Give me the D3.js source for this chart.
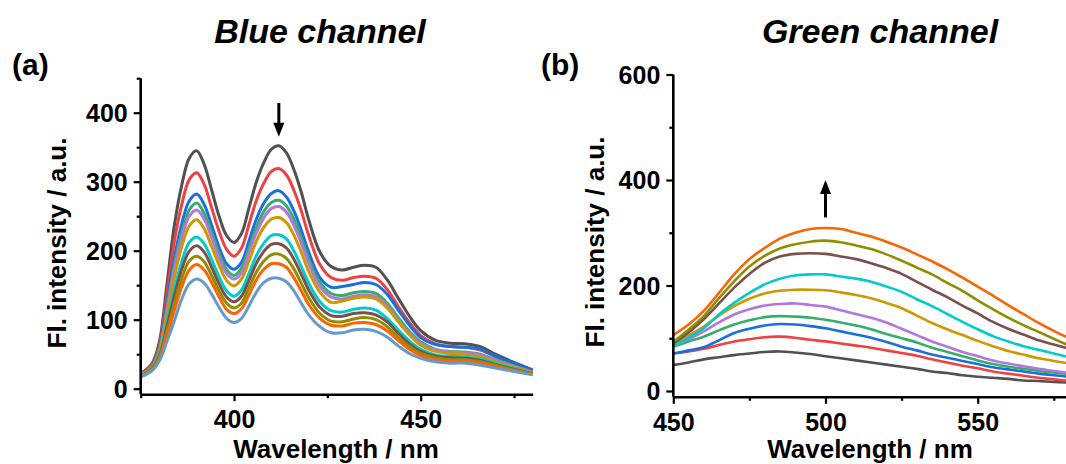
<!DOCTYPE html>
<html><head><meta charset="utf-8">
<script src="https://cdn.jsdelivr.net/npm/d3@7"></script>
<style>
body{margin:0;background:#fff;}
svg{display:block;}
text{font-family:'Liberation Sans',Arial,sans-serif;font-weight:bold;fill:#000;}
</style>
</head><body><svg id="c" width="1066" height="464"></svg>
<script>
// Origin "Bright" palette order
const palette = ["#515151","#F14040","#1A6FDF","#37AD6B","#B177DE","#CC9900","#00CBCC","#7D4E4E","#8E8E00","#FB6501","#6699CC"];

// ---------- Panel (a): Blue channel ----------
const wlA = [375,378,380,382,384,386,388,390,392,394,396,398,400,402,404,406,408,410,412,414,416,418,420,423,426,429,432,435,438,441,444,447,450,454,458,462,466,470,475,480];
const blueGray   = [22,36,68,150,236,295,334,345,325,288,250,222,212,225,262,300,328,347,352,342,318,285,245,198,177,172,176,179,176,158,131,105,84,70,66,65,61,50,38,27];
const blueRed    = [21,34,63,136,213,267,303,313,296,262,228,202,192,204,238,273,298,315,319,310,288,258,222,180,161,157,161,163,160,144,119,96,77,65,61,60,56,47,36,26];
const blueBlue   = [20,33,59,122,189,239,272,282,267,237,205,181,173,183,214,246,269,283,287,278,258,230,198,161,147,148,151,154,151,137,114,92,74,64,61,60,57,47,37,27];
const blueGreen  = [20,32,57,116,179,227,259,269,254,226,196,173,164,175,204,234,257,270,273,265,246,219,188,154,138,135,139,141,138,124,103,83,68,57,54,53,50,42,33,24];
const blueViolet = [20,31,55,112,173,219,250,259,246,219,189,167,159,168,197,226,248,261,264,256,237,211,182,148,133,130,134,136,133,120,99,80,66,56,53,52,49,41,32,24];
const blueGold   = [19,31,53,106,161,206,236,245,232,206,179,157,149,159,185,214,234,246,248,241,223,198,170,140,125,127,131,133,130,117,97,78,63,54,51,50,46,39,31,23];
const blueCyan   = [19,29,49,95,144,184,212,220,210,187,162,142,134,143,167,193,211,222,223,217,200,177,153,126,113,111,115,117,114,102,85,69,57,49,47,46,43,37,29,22];
const blueBrown  = [18,29,47,89,134,173,199,207,198,176,152,133,126,134,157,182,199,209,210,204,188,166,143,118,106,105,109,110,107,97,80,65,54,47,45,44,41,35,28,22];
const blueOlive  = [18,28,45,83,123,160,185,192,184,164,142,124,117,124,146,169,185,194,195,189,174,153,132,109,98,97,101,103,100,90,74,61,51,45,42,42,39,34,27,21];
const blueOrange = [18,27,43,77,113,148,172,180,172,154,133,115,109,116,136,158,173,181,181,176,161,142,122,102,92,91,95,96,93,84,70,57,48,42,40,40,37,32,26,21];
const blueLight  = [17,26,40,68,98,130,152,159,153,137,118,102,96,102,120,140,154,160,160,155,142,124,107,90,81,81,85,86,83,75,62,51,44,39,37,37,34,30,25,20];
const seriesA = [blueGray,blueRed,blueBlue,blueGreen,blueViolet,blueGold,blueCyan,blueBrown,blueOlive,blueOrange,blueLight];
const xTicksA = [400,450], xMinorA = [375,425,475];
const yTicksA = [0,100,200,300,400], yMinorA = [50,150,250,350,450];

// ---------- Panel (b): Green channel ----------
const wlB = [450,455,460,465,470,475,480,485,490,495,500,505,510,515,520,525,530,535,540,545,550,555,560,565,570,575,580];
const greenGray   = [49,54,60,64,68,71,74,75,73,70,66,62,58,54,50,46,42,37,34,30,27,25,23,20,19,17,16];
const greenRed    = [71,75,80,87,94,98,102,103,101,97,94,90,86,82,77,72,67,60,54,48,43,37,33,29,25,22,19];
const greenBlue   = [71,77,83,96,110,118,124,127,126,123,119,113,107,101,93,84,77,69,63,57,51,45,41,37,33,30,27];
const greenGreen  = [84,94,103,115,126,134,140,142,141,139,135,130,124,117,108,100,92,82,74,66,58,51,46,42,38,35,32];
const greenViolet = [86,98,113,130,145,155,162,165,166,163,160,153,146,139,130,118,106,94,84,74,66,58,52,47,42,38,34];
const greenGold   = [88,105,122,143,161,175,185,190,192,192,191,187,182,176,167,157,143,129,117,106,95,85,76,69,62,57,52];
const greenCyan   = [84,101,119,145,167,186,202,213,219,221,221,217,213,207,198,188,174,161,146,131,117,104,94,85,78,71,64];
const greenBrown  = [90,111,136,166,196,222,243,255,260,261,260,255,250,242,233,222,207,192,178,162,147,131,118,107,96,88,80];
const greenOlive  = [93,116,142,176,208,236,256,270,278,283,285,282,276,269,259,247,234,221,205,190,172,155,139,125,112,99,86];
const greenOrange = [106,126,152,186,221,250,271,289,300,307,309,307,300,293,283,272,259,246,231,215,198,181,163,146,129,114,100];
const seriesB = [greenGray,greenRed,greenBlue,greenGreen,greenViolet,greenGold,greenCyan,greenBrown,greenOlive,greenOrange];
const xTicksB = [450,500,550], xMinorB = [475,525,575];
const yTicksB = [0,200,400,600], yMinorB = [100,300,500];

const svg = d3.select("#c");
const FONT = "'Liberation Sans',Arial,sans-serif";

function panel(cfg){
  const x = d3.scaleLinear().domain(cfg.xDomain).range(cfg.xRange);
  const y = d3.scaleLinear().domain(cfg.yDomain).range(cfg.yRange);
  const g = svg.append("g");
  const line = d3.line().x((d,i)=>x(cfg.wl[i])).y(d=>y(d)).curve(d3.curveCatmullRom.alpha(0.5));
  cfg.series.forEach((s,i)=>{
    g.append("path").attr("d", line(s)).attr("fill","none")
      .attr("stroke", palette[i]).attr("stroke-width", cfg.lw).attr("stroke-linejoin","round");
  });
  const yb = cfg.yRange[0], xl = cfg.xRange[0];
  // x axis
  const gx = g.append("g").attr("transform",`translate(0,${yb})`)
    .call(d3.axisBottom(x).tickValues(cfg.xTicks).tickSize(7).tickSizeOuter(0).tickPadding(9).tickFormat(d3.format("d")));
  g.append("g").attr("transform",`translate(0,${yb})`)
    .call(d3.axisBottom(x).tickValues(cfg.xMinor).tickSize(4).tickFormat(""))
    .call(a=>a.select(".domain").remove());
  // y axis
  const gy = g.append("g").attr("transform",`translate(${xl},0)`)
    .call(d3.axisLeft(y).tickValues(cfg.yTicks).tickSize(7).tickSizeOuter(0).tickPadding(6).tickFormat(d3.format("d")));
  g.append("g").attr("transform",`translate(${xl},0)`)
    .call(d3.axisLeft(y).tickValues(cfg.yMinor).tickSize(4).tickFormat(""))
    .call(a=>a.select(".domain").remove());
  // y axis domain should span exactly to top value
  gy.select(".domain").attr("d", `M0,${yb}V${y(cfg.yTop)}`);
  g.selectAll(".domain").attr("stroke","#000").attr("stroke-width",2.6);
  g.selectAll(".tick line").attr("stroke","#000").attr("stroke-width",2.2);
  g.selectAll(".tick text").style("font-family",FONT).style("font-weight","bold").style("font-size","25px").attr("fill","#000");
  gy.selectAll(".tick text").attr("dy","0.36em");
  // arrow
  const ax = x(cfg.arrow.x), tail = y(cfg.arrow.from), tip = y(cfg.arrow.to);
  const dir = tip > tail ? 1 : -1;
  g.append("line").attr("x1",ax).attr("x2",ax).attr("y1",tail).attr("y2",tip - dir*10)
    .attr("stroke","#000").attr("stroke-width",3);
  g.append("path").attr("d",`M${ax},${tip}L${ax-5.5},${tip-dir*14}L${ax+5.5},${tip-dir*14}Z`).attr("fill","#000");
  // labels
  svg.append("text").attr("x",cfg.titleX).attr("y",43).attr("text-anchor","middle")
    .style("font-size","34px").style("font-style","italic").text(cfg.title);
  svg.append("text").attr("x",cfg.letterX).attr("y",75).style("font-size","30px").text(cfg.letter);
  svg.append("text").attr("x",cfg.xLabelX).attr("y",458).attr("text-anchor","middle")
    .style("font-size","26px").text("Wavelength / nm");
  svg.append("text").attr("transform",`translate(${cfg.yLabelX},${cfg.yLabelY}) rotate(-90)`)
    .attr("text-anchor","middle").style("font-size","26px").text("Fl. intensity / a.u.");
}

panel({wl:wlA, series:seriesA, lw:3,
  xDomain:[375,480], xRange:[140.7,532.7],
  yDomain:[-8,450], yRange:[394.2,78.2], yTop:450,
  xTicks:xTicksA, xMinor:xMinorA, yTicks:yTicksA, yMinor:yMinorA,
  arrow:{x:412, from:414, to:365},
  title:"Blue channel", titleX:320, letter:"(a)", letterX:12,
  xLabelX:336, yLabelX:66, yLabelY:243});

panel({wl:wlB, series:seriesB, lw:2.6,
  xDomain:[450,580], xRange:[673.3,1069],
  yDomain:[-11,600], yRange:[396.8,74.5], yTop:600,
  xTicks:xTicksB, xMinor:xMinorB, yTicks:yTicksB, yMinor:yMinorB,
  arrow:{x:500, from:329, to:400},
  title:"Green channel", titleX:880, letter:"(b)", letterX:541,
  xLabelX:870, yLabelX:604, yLabelY:242});
</script>
</body></html>
